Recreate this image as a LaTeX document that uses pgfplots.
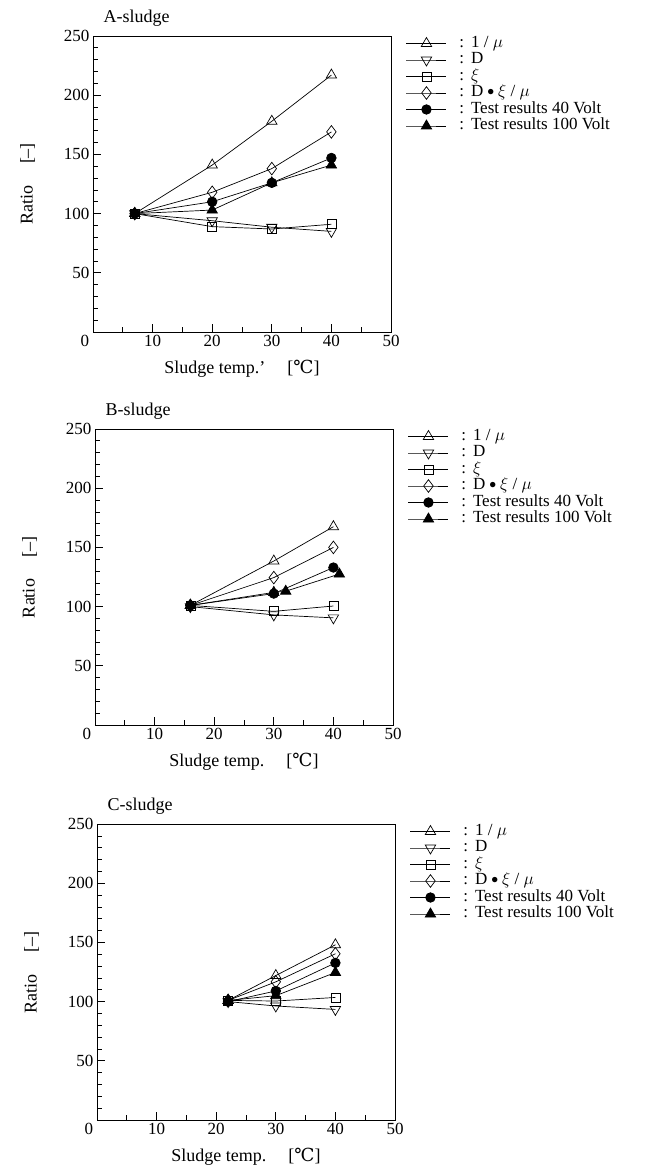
\documentclass[border=0pt]{standalone}
\usepackage{fontspec}
\setmainfont{Liberation Serif}
\newfontfamily\degfont{DejaVu Serif}
\usepackage{pgfplots}
\pgfplotsset{compat=1.18}

\pgfplotsset{
  sludge/.style={
    scale only axis, width=298pt, height=296pt,
    xmin=0, xmax=50, ymin=0, ymax=250,
    xtick={0,10,...,50},
    xticklabels={\makebox[0pt][r]{0\hspace{4pt}},10,20,30,40,50},
    ytick={0,50,...,250},
    yticklabels={,50,100,150,200,250},
    minor x tick num=1, minor y tick num=4,
    tick pos=left, tick align=inside,
    major tick length=8pt, minor tick length=5pt,
    axis line style={line width=0.8pt},
    every tick/.style={black, line width=0.7pt},
    tick label style={font=\fontsize{17}{17}\selectfont},
    /pgf/number format/assume math mode=true,
    label style={font=\fontsize{18}{18}\selectfont},
    ylabel={Ratio\hspace{22pt}[--]},
    ylabel style={yshift=22pt},
    xlabel style={yshift=-6pt},
    title style={at={(0.025,1)}, anchor=south west, inner sep=3pt,
      font=\fontsize{18}{18}\selectfont},
    clip=false,
    legend cell align=left,
    legend style={draw=none, fill=none, at={(1.04,1.01)}, anchor=north west,
      font=\fontsize{17}{17}\selectfont, row sep=0pt,
      nodes={inner sep=0.5pt, text height=11.5pt, text depth=4pt}},
    legend image code/.code={
      \draw[mark repeat=2, mark phase=2] plot coordinates {(0pt,0pt) (20pt,0pt) (40pt,0pt)};},
    every axis plot/.append style={black, line width=0.7pt},
  },
  invmu/.style={mark=triangle, mark size=6pt, mark options={fill=white, solid}},
  dd/.style={mark=triangle, mark size=6pt, mark options={fill=white, rotate=180}},
  xi/.style={mark=square, mark size=4.5pt, mark options={fill=white}},
  dxm/.style={mark=diamond, mark size=6.3pt, mark options={fill=white}},
  v40/.style={mark=*, mark size=4.8pt},
  v100/.style={mark=triangle*, mark size=6pt},
}
\newcommand{\legtxt}[1]{\hspace{12pt}:\hspace{7pt}#1}
\newcommand{\sludgelegend}{%
  \legend{\legtxt{1 / $\mu$}, \legtxt{D}, \legtxt{$\xi$},
    \legtxt{D\hspace{4pt}\raisebox{1pt}{\scalebox{0.8}{$\bullet$}}\hspace{4pt}$\xi$ / $\mu$},
    \legtxt{Test results 40 Volt}, \legtxt{Test results 100 Volt}}}

\begin{document}
\begin{tikzpicture}
\useasboundingbox (0pt,0pt) rectangle (661pt,-1175pt);

% A-sludge
\begin{axis}[sludge, at={(93pt,-332pt)}, anchor=south west, title={A-sludge},
  xlabel={Sludge temp.'\hspace{22pt}[{\degfont ℃}]}]
\addplot[invmu] coordinates {(7,100)(20,141)(30,178)(40,217)};
\addplot[dd] coordinates {(7,100)(20,94)(30,88.5)(40,85)};
\addplot[xi] coordinates {(7,100)(20,89)(30,87)(40,91)};
\addplot[dxm] coordinates {(7,100)(20,118)(30,138)(40,169)};
\addplot[v40] coordinates {(7,100)(20,110)(30,126)(40,147)};
\addplot[v100] coordinates {(7,100)(20,103)(30,126)(40,141)};
\sludgelegend
\end{axis}

% B-sludge
\begin{axis}[sludge, at={(95pt,-725pt)}, anchor=south west, title={B-sludge},
  xlabel={Sludge temp.\hspace{22pt}[{\degfont ℃}]}]
\addplot[invmu] coordinates {(16,101)(30,138.5)(40,167.5)};
\addplot[dd] coordinates {(16,100)(30,93)(40,90.5)};
\addplot[xi] coordinates {(16,101)(30,96)(40,100.5)};
\addplot[dxm] coordinates {(16,101)(30,124.5)(40,150)};
\addplot[v40] coordinates {(16,101)(30,111)(40,133)};
\addplot[v100] coordinates {(16,101)(30,112)(32,113)(41,127.5)};
\sludgelegend
\end{axis}

% C-sludge
\begin{axis}[sludge, at={(97pt,-1120pt)}, anchor=south west, title={C-sludge},
  xlabel={Sludge temp.\hspace{22pt}[{\degfont ℃}]}]
\addplot[invmu] coordinates {(22,101)(30,122)(40,148)};
\addplot[dd] coordinates {(22,100)(30,96.3)(40,93.4)};
\addplot[xi] coordinates {(22,101)(30,100.5)(40,103.5)};
\addplot[dxm] coordinates {(22,101)(30,116.7)(40,140.4)};
\addplot[v40] coordinates {(22,100)(30,109)(40,132.7)};
\addplot[v100] coordinates {(22,101)(30,105)(40,124.6)};
\sludgelegend
\end{axis}
\end{tikzpicture}
\end{document}
